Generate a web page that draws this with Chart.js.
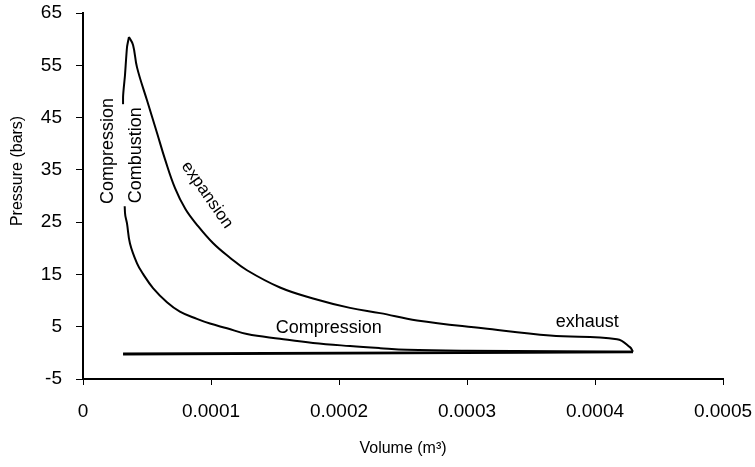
<!DOCTYPE html>
<html>
<head>
<meta charset="utf-8">
<script src="https://cdn.jsdelivr.net/npm/chart.js@4/dist/chart.umd.min.js"></script>
<style>
  html, body { margin: 0; padding: 0; background: #fff; }
  canvas { display: block; }
</style>
</head>
<body>
<canvas id="pv" width="755" height="467"></canvas>
<script>
// volumes in m3, pressures in bars
const compressionV = [0.0004297, 0.0003727, 0.0003000, 0.0002532, 0.0002321, 0.0002086, 0.0001797, 0.0001539, 0.0001281, 0.0001125, 0.0000992, 0.0000890, 0.0000757, 0.0000656, 0.0000547, 0.0000469, 0.0000422, 0.0000367, 0.0000344, 0.0000328, 0.0000320];
const compressionP = [0.2, 0.3, 0.4, 0.6, 0.9, 1.3, 1.9, 2.7, 3.6, 4.7, 5.6, 6.5, 7.9, 9.7, 12.4, 15.1, 17.1, 20.9, 24.7, 26.8, 36.8];

const combustionV = [0.0000320, 0.0000313, 0.0000328, 0.0000344, 0.0000359];
const combustionP = [36.8, 48.9, 53.1, 58.5, 60.4];

const expansionV = [0.0000359, 0.0000391, 0.0000422, 0.0000500, 0.0000579, 0.0000641, 0.0000719, 0.0000800, 0.0000890, 0.0001015, 0.0001148, 0.0001281, 0.0001539, 0.0001797, 0.0002086, 0.0002321, 0.0002610, 0.0003125, 0.0003649, 0.0004172, 0.0004273, 0.0004297];
const expansionP = [60.4, 58.9, 54.6, 48.3, 42.0, 37.0, 31.5, 27.5, 24.5, 21.0, 18.2, 15.8, 12.5, 10.4, 8.6, 7.6, 6.2, 4.7, 3.3, 2.6, 1.1, 0.2];

const exhaustV = [0.0004297, 0.0000313];
const exhaustP = [0.2, -0.1];
const intakeV = [0.0000313, 0.0004297];
const intakeP = [-0.3, 0.1];

const xTicks = [0, 0.0001, 0.0002, 0.0003, 0.0004, 0.0005];
const yTicks = [-5, 5, 15, 25, 35, 45, 55, 65];

// text written onto the plot, anchored in data units
const notes = [
  { text: 'Compression', v: 0.0000195, p: 38.6, angle: -90, size: 18 },
  { text: 'Combustion', v: 0.0000414, p: 37.8, angle: -90, size: 18, mask: true },
  { text: 'expansion', v: 0.0000969, p: 30.2, angle: 55, size: 17 },
  { text: 'Compression', v: 0.000192, p: 4.8, angle: 0, size: 18 },
  { text: 'exhaust', v: 0.000394, p: 5.9, angle: 0, size: 18 }
];

const pts = (vs, ps) => vs.map((v, i) => ({ x: v, y: ps[i] }));

const line = (label, vs, ps, tension) => ({
  label,
  data: pts(vs, ps),
  showLine: true,
  borderColor: '#000',
  borderWidth: 2,
  pointRadius: 0,
  tension,
  fill: false
});

const notePlugin = {
  id: 'notes',
  afterDatasetsDraw(chart) {
    const { ctx, scales: { x, y } } = chart;
    ctx.save();
    ctx.fillStyle = '#000';
    ctx.textAlign = 'center';
    ctx.textBaseline = 'middle';
    notes.forEach(n => {
      ctx.save();
      ctx.font = n.size + 'px "Liberation Sans", Arial, sans-serif';
      ctx.translate(x.getPixelForValue(n.v), y.getPixelForValue(n.p));
      ctx.rotate(n.angle * Math.PI / 180);
      if (n.mask) {
        const w = ctx.measureText(n.text).width;
        ctx.fillStyle = '#fff';
        ctx.fillRect(-w / 2 - 3, -16, w + 6, 26);
        ctx.fillStyle = '#000';
      }
      ctx.fillText(n.text, 0, 0);
      ctx.restore();
    });
    // y axis title, sits a little above the middle of the axis
    ctx.save();
    ctx.font = '16px "Liberation Sans", Arial, sans-serif';
    ctx.translate(18, y.getPixelForValue(32.5) - 12);
    ctx.rotate(-Math.PI / 2);
    ctx.fillText('Pressure (bars)', 0, 0);
    ctx.restore();
    ctx.restore();
  }
};

const tickFont = { family: '"Liberation Sans", Arial, sans-serif', size: 19 };

new Chart(document.getElementById('pv'), {
  type: 'scatter',
  data: {
    datasets: [
      line('compression', compressionV, compressionP, 0.4),
      line('combustion', combustionV, combustionP, 0.2),
      line('expansion', expansionV, expansionP, 0.4),
      line('exhaust', exhaustV, exhaustP, 0),
      line('intake', intakeV, intakeP, 0)
    ]
  },
  plugins: [notePlugin],
  options: {
    responsive: false,
    animation: false,
    layout: { padding: { top: 13, right: 32, left: 0, bottom: 0 } },
    plugins: { legend: { display: false }, tooltip: { enabled: false } },
    scales: {
      x: {
        type: 'linear',
        min: 0,
        max: 0.0005,
        afterBuildTicks: s => { s.ticks = xTicks.map(v => ({ value: v })); },
        afterFit: s => { s.height = 88; s.paddingLeft = 0; s.paddingRight = 0; },
        ticks: {
          color: '#000',
          font: tickFont,
          padding: 15,
          maxRotation: 0,
          callback: v => v === 0 ? '0' : v.toFixed(4)
        },
        grid: { drawOnChartArea: false, color: '#000', tickLength: 6, lineWidth: 1 },
        border: { color: '#000', width: 2 },
        title: {
          display: true,
          text: 'Volume (m³)',
          color: '#000',
          font: { family: '"Liberation Sans", Arial, sans-serif', size: 16 },
          padding: { top: 4, bottom: 9 }
        }
      },
      y: {
        min: -5,
        max: 65,
        afterBuildTicks: s => { s.ticks = yTicks.map(v => ({ value: v })); },
        afterFit: s => { s.width = 83; s.paddingTop = 0; s.paddingBottom = 0; },
        ticks: {
          color: '#000',
          font: tickFont,
          padding: 14
        },
        grid: { drawOnChartArea: false, color: '#000', tickLength: 7, lineWidth: 1 },
        border: { color: '#000', width: 2 },
        title: { display: false }
      }
    }
  }
});
</script>
</body>
</html>
